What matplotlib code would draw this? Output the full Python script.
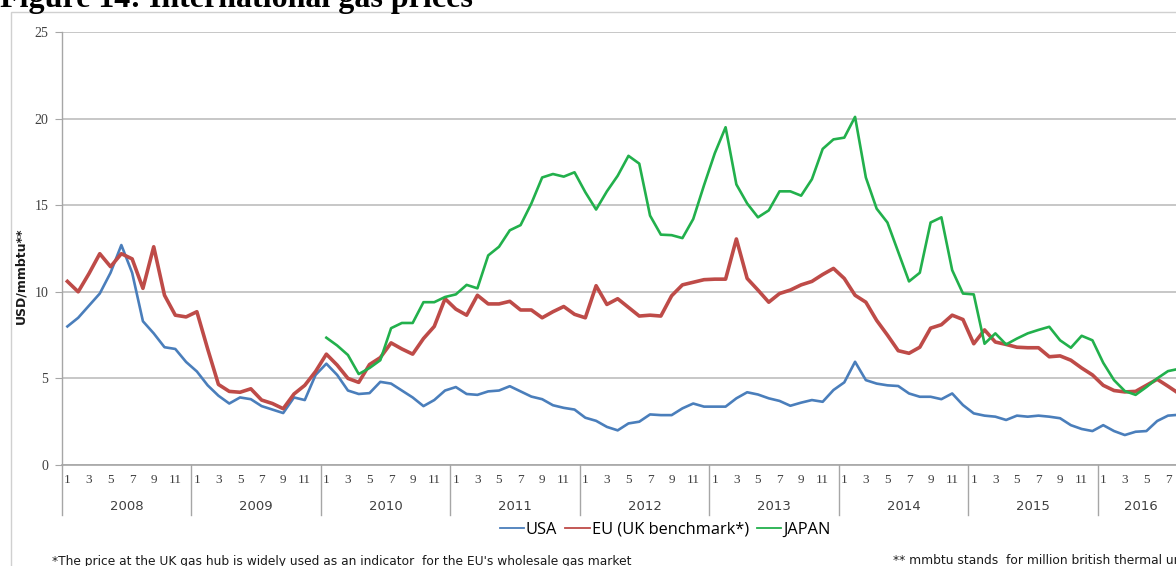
import numpy as np
import matplotlib
matplotlib.use("Agg")
import matplotlib.pyplot as plt
from matplotlib.patches import Rectangle
from matplotlib.lines import Line2D
import matplotlib.transforms as mtransforms

# ---------------- data ----------------
years = [2008, 2009, 2010, 2011, 2012, 2013, 2014, 2015, 2016]
months_in_year = [12, 12, 12, 12, 12, 12, 12, 12, 8]
month_labels = ["1", "3", "5", "7", "9", "11"]

usa = [
    8.0, 8.5, 9.2, 9.9, 11.1, 12.7, 11.1, 8.3, 7.6, 6.8, 6.7, 5.95,
    5.4, 4.6, 4.0, 3.55, 3.9, 3.8, 3.4, 3.2, 3.0, 3.9, 3.75, 5.2,
    5.85, 5.2, 4.3, 4.1, 4.15, 4.8, 4.7, 4.3, 3.9, 3.4, 3.75, 4.3,
    4.5, 4.1, 4.05, 4.25, 4.3, 4.55, 4.25, 3.95, 3.8, 3.45, 3.3, 3.2,
    2.73, 2.55, 2.2, 2.0, 2.4, 2.5, 2.92, 2.88, 2.88, 3.27, 3.55, 3.37,
    3.37, 3.37, 3.85, 4.2, 4.07, 3.85, 3.7, 3.42, 3.6, 3.75, 3.65, 4.33,
    4.77, 5.96, 4.9, 4.7, 4.6, 4.56, 4.13, 3.94, 3.94, 3.8, 4.13, 3.46,
    2.98, 2.85, 2.79, 2.6, 2.85, 2.79, 2.85, 2.79, 2.7, 2.3, 2.08, 1.96,
    2.3, 1.96, 1.73, 1.92, 1.96, 2.54, 2.85, 2.9,
]
eu = [
    10.6, 10.0, 11.05, 12.2, 11.45, 12.2, 11.9, 10.2, 12.6, 9.8, 8.65, 8.55,
    8.85, 6.7, 4.65, 4.25, 4.2, 4.4, 3.75, 3.55, 3.25, 4.1, 4.6, 5.4,
    6.4, 5.77, 5.0, 4.77, 5.8, 6.2, 7.05, 6.7, 6.4, 7.3, 8.0, 9.6,
    9.0, 8.65, 9.8, 9.3, 9.3, 9.45, 8.95, 8.95, 8.5, 8.85, 9.15, 8.7,
    8.5, 10.35, 9.27, 9.6, 9.1, 8.6, 8.65, 8.6, 9.77, 10.4, 10.55, 10.7,
    10.73, 10.73, 13.05, 10.77, 10.1, 9.4, 9.9, 10.1, 10.4, 10.6, 11.0, 11.35,
    10.77, 9.8, 9.4, 8.35, 7.5, 6.6, 6.45, 6.8, 7.9, 8.1, 8.65, 8.4,
    7.0, 7.8, 7.1, 6.96, 6.8, 6.77, 6.77, 6.25, 6.3, 6.05, 5.6, 5.2,
    4.6, 4.3, 4.22, 4.25, 4.6, 4.95, 4.55, 4.13,
]
japan = [np.nan] * 24 + [
    7.35, 6.9, 6.35, 5.25, 5.6, 6.05, 7.9, 8.2, 8.2, 9.4, 9.4, 9.7,
    9.85, 10.4, 10.2, 12.1, 12.6, 13.55, 13.85, 15.1, 16.6, 16.8, 16.65, 16.9,
    15.75, 14.75, 15.8, 16.7, 17.85, 17.4, 14.4, 13.3, 13.27, 13.1, 14.2, 16.15,
    18.0, 19.5, 16.2, 15.1, 14.3, 14.7, 15.8, 15.8, 15.55, 16.5, 18.25, 18.8,
    18.9, 20.1, 16.6, 14.8, 14.0, 12.3, 10.6, 11.1, 14.0, 14.3, 11.25, 9.9,
    9.85, 7.0, 7.6, 6.96, 7.3, 7.6, 7.8, 7.98, 7.2, 6.77, 7.46, 7.2,
    5.9, 4.9, 4.27, 4.05, 4.5, 5.0, 5.42, 5.55,
]
series_names = ["USA", "EU (UK benchmark*)", "JAPAN"]
series_colors = ["#4a7ebb", "#be4b48", "#22b04c"]
series_widths = [1.9, 2.6, 1.9]

# ---------------- figure ----------------
W, H = 1176, 566
fig = plt.figure(figsize=(W / 100, H / 100), dpi=100)

# outer chart frame (cropped screenshot)
fig.patches.append(Rectangle((11 / W, -0.2), 2.0, (H - 12) / H + 0.2,
                             transform=fig.transFigure, fill=False,
                             edgecolor="#d0d0d0", linewidth=1.0))

n = len(usa)
month_px = 10.79
left_px, zero_px, top_px = 62, 465, 32
ax = fig.add_axes([left_px / W, (H - zero_px) / H, n * month_px / W,
                   (zero_px - top_px) / H])
ax.set_facecolor("none")

x = np.arange(n)
for vals, c, lw in zip([usa, eu, japan], series_colors, series_widths):
    ax.plot(x, vals, color=c, linewidth=lw, solid_joinstyle="round")

ax.set_xlim(-0.5, n - 0.5)
ax.set_ylim(0, 25)
ax.set_yticks(np.arange(0, 26, 5))
ax.yaxis.grid(True, color="#bdbdbd", linewidth=1.2)
ax.set_axisbelow(True)
for s in ["top", "right"]:
    ax.spines[s].set_visible(False)
ax.spines["left"].set_color("#a6a6a6")
ax.spines["bottom"].set_color("#a6a6a6")
ax.spines["left"].set_linewidth(1.0)
ax.spines["bottom"].set_linewidth(1.2)
ax.tick_params(axis="y", length=5, color="#a6a6a6", pad=5,
               labelsize=10, labelcolor="#404040")
for lab in ax.get_yticklabels():
    lab.set_family("Liberation Serif")
ax.set_xticks([])

ax_w = n * month_px
ax_h = zero_px - top_px
ax.set_ylabel("USD/mmbtu**", fontsize=9, fontweight="bold",
              family="DejaVu Sans", color="#1a1a1a")
ax.yaxis.set_label_coords((27 - left_px) / ax_w, (zero_px - 276) / ax_h)

# category axis: months and years
trans = mtransforms.blended_transform_factory(ax.transData, ax.transAxes)
start = 0
for yr, nm in zip(years, months_in_year):
    ax.plot([start - 0.5, start - 0.5], [0, -50 / ax_h], transform=trans,
            color="#a6a6a6", linewidth=1.0, clip_on=False)
    for m in range(0, nm, 2):
        ax.text(start + m, -15 / ax_h, month_labels[m // 2], transform=trans,
                ha="center", va="center", fontsize=9.5,
                family="Liberation Serif", color="#404040")
    ax.text(start + (nm - 1) / 2, -41 / ax_h, str(yr), transform=trans,
            ha="center", va="center", fontsize=9.5,
            family="DejaVu Sans", color="#404040")
    start += nm
ax.plot([start - 0.5, start - 0.5], [0, -50 / ax_h], transform=trans,
        color="#a6a6a6", linewidth=1.0, clip_on=False)

# legend
handles = [Line2D([0], [0], color=c, linewidth=1.3) for c in series_colors]
fig.legend(handles, series_names, loc="center", bbox_to_anchor=(665 / W, 1 - 530 / H),
           ncol=3, frameon=False, handlelength=1.5,
           handletextpad=0.1, columnspacing=0.5,
           prop={"family": "Open Sans", "size": 11.8})

# footnotes
fig.text(52 / W, 1 - 561 / H,
         "*The price at the UK gas hub is widely used as an indicator  for the EU's wholesale gas market",
         fontsize=8.8, family="DejaVu Sans", va="center", ha="left", color="#1a1a1a")
fig.text(893 / W, 1 - 561 / H,
         "** mmbtu stands  for million british thermal units",
         fontsize=8.8, family="DejaVu Sans", va="center", ha="left", color="#1a1a1a")

# title (top cut off in the reference)
fig.text(0 / W, 1 - 7 / H, "Figure 14: International gas prices",
         fontsize=23, fontweight="bold", family="Liberation Serif",
         va="baseline", ha="left", color="black")

fig.savefig("out.png", dpi=100)
